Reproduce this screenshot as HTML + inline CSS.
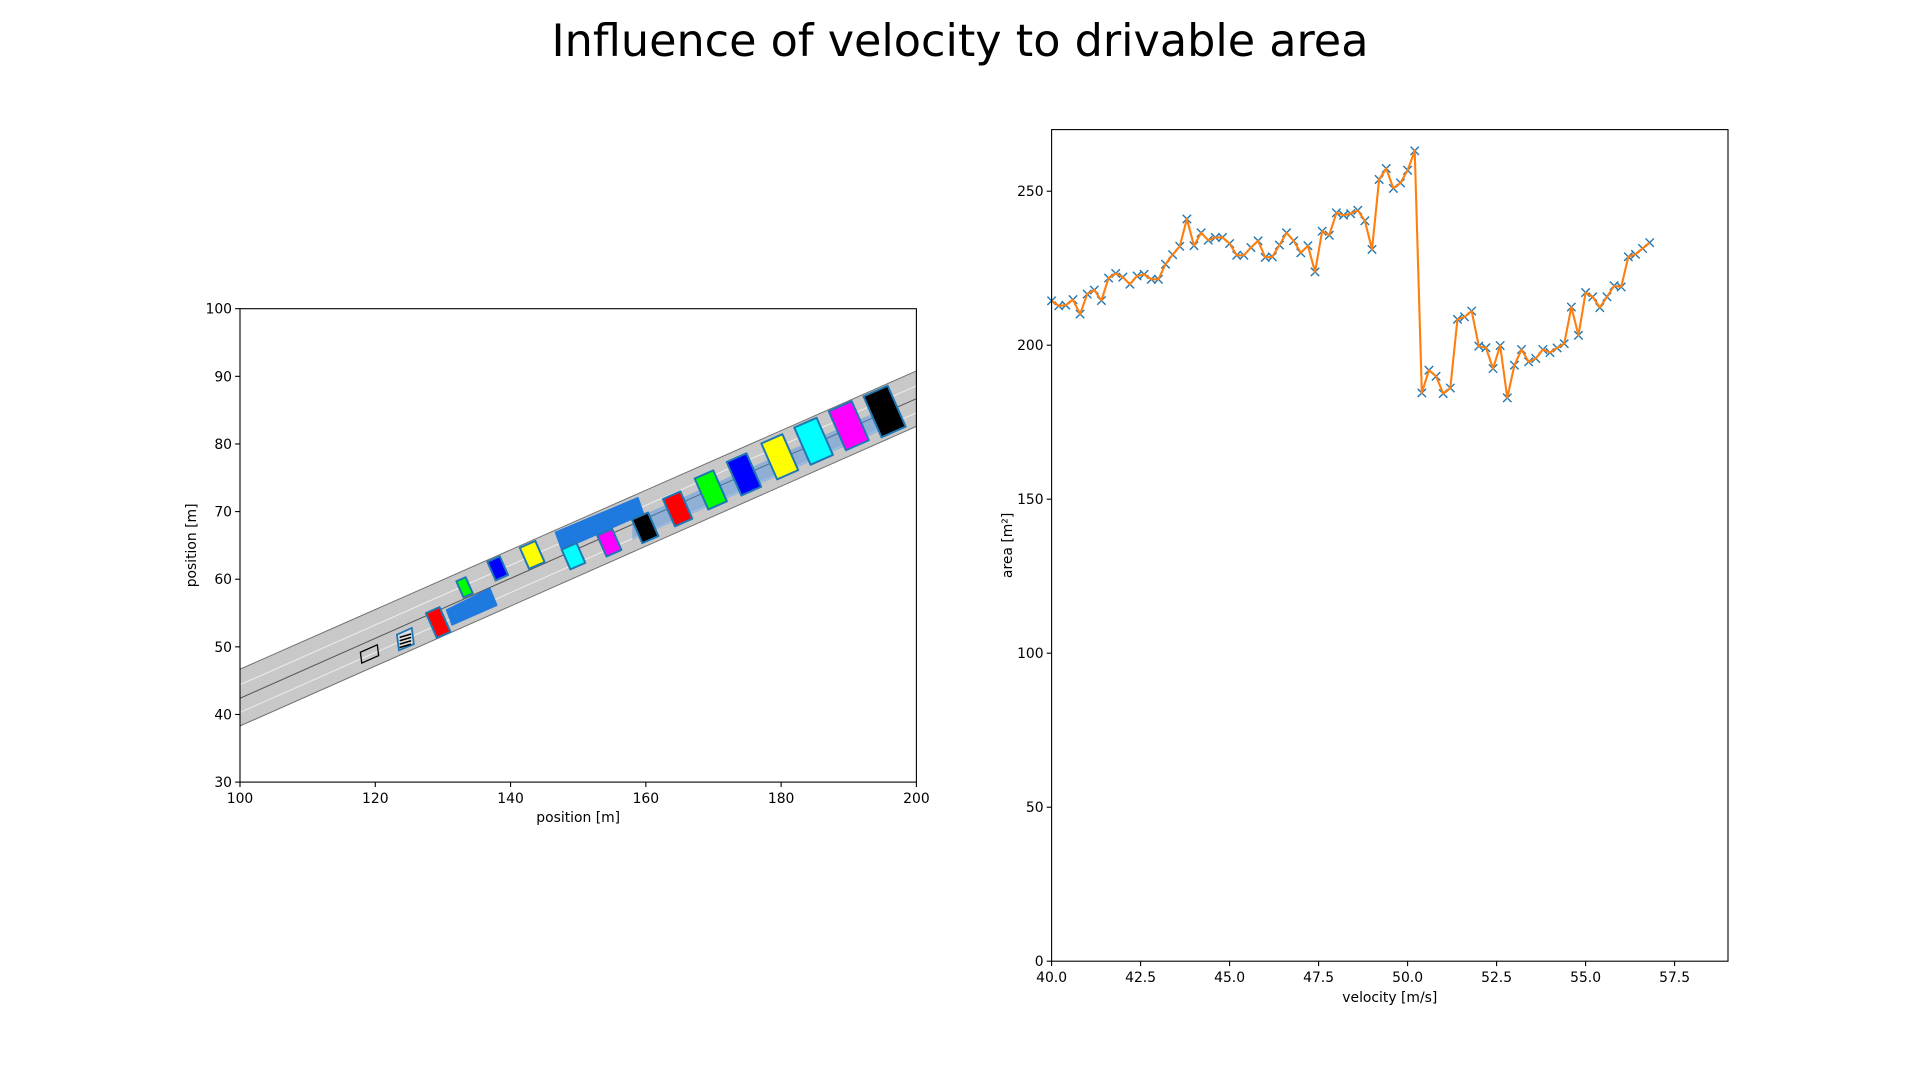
<!DOCTYPE html>
<html><head><meta charset="utf-8"><style>
html,body{margin:0;padding:0;background:#fff;}
svg{display:block;font-family:"DejaVu Sans","Liberation Sans",sans-serif;}
</style></head><body>
<svg id="fig" width="1920" height="1080" viewBox="0 0 1920 1080" xmlns="http://www.w3.org/2000/svg">
<text x="960" y="56" font-size="44.5" text-anchor="middle" fill="#000">Influence of velocity to drivable area</text>
<g id="left"></g>
<g id="right"></g>
</svg>
<script>
// ---- right chart data ----
const velocities = [];
for (let i = 0; i <= 84; i++) velocities.push(+(40 + i * 0.2).toFixed(1));
const areaValues = [214.4,212.8,213.0,214.8,210.1,216.6,217.9,214.5,221.8,223.3,
222.1,219.8,222.5,223.0,221.4,221.4,226.3,229.4,232.1,241.0,
232.3,236.5,234.1,235.0,235.0,233.0,229.2,229.2,231.7,233.9,
228.5,228.7,232.5,236.5,233.9,230.0,232.3,223.8,237.0,235.7,
243.0,242.2,242.7,243.8,240.4,231.1,253.8,257.4,250.9,252.7,
256.8,263.1,184.5,191.9,189.9,184.3,186.1,208.4,209.2,211.1,
199.7,199.2,192.4,199.9,182.9,193.5,198.6,194.6,195.7,198.6,
197.6,199.1,200.5,212.4,203.2,217.1,215.7,212.2,215.7,219.3,
218.9,228.7,229.5,231.4,233.3];
const xTicksR = [40.0,42.5,45.0,47.5,50.0,52.5,55.0,57.5];
const yTicksR = [0,50,100,150,200,250];
// ---- left chart data ----
const xTicksL = [100,120,140,160,180,200];
const yTicksL = [30,40,50,60,70,80,90,100];
const obsX = [129.3,133.2,138.1,143.2,149.3,154.6,159.9,164.7,169.6,174.5,179.8,184.8,190.0,195.3];
const obsY = [53.6,58.8,61.6,63.6,63.4,65.4,67.6,70.4,73.2,75.5,78.1,80.4,82.7,84.8];
const obsAlong = [2.2,1.5,2.0,2.5,2.4,2.4,2.6,2.8,3.0,3.2,3.4,3.6,3.7,3.9];
const obsCross = [4.0,2.6,3.0,3.4,3.2,3.4,3.8,4.4,5.0,5.4,5.8,6.0,6.3,6.6];
const obsColors = ['#ff0000','#00ff00','#0000ff','#ffff00','#00ffff','#ff00ff','#000000','#ff0000','#00ff00','#0000ff','#ffff00','#00ffff','#ff00ff','#000000'];

const NS = 'http://www.w3.org/2000/svg';
function mk(parent, tag, attrs){const e=document.createElementNS(NS,tag);for(const k in attrs)e.setAttribute(k,attrs[k]);parent.appendChild(e);return e;}

// ===== right chart =====
const R = document.getElementById('right');
const rx0=1051.6, rx1=1728, ry0=961.2, ry1=129.6;
const sxR = v => rx0 + (v-40)/(59-40)*(rx1-rx0);
const syR = v => ry0 - v/270*(ry0-ry1);
let rb = mk(R,'rect',{x:rx0,y:ry1,width:rx1-rx0,height:ry0-ry1,fill:'#fff',stroke:'none'});


xTicksR.forEach(t=>{
  const x=sxR(t);
  const l=mk(R,'line',{x1:x,y1:ry0,x2:x,y2:ry0+4.9,stroke:'#000','stroke-width':1.1});
  
  
  const tx=mk(R,'text',{x:x,y:ry0+21,'font-size':13.9,'text-anchor':'middle'});
  tx.textContent=t.toFixed(1);
  
  
});
yTicksR.forEach(t=>{
  const y=syR(t);
  const l=mk(R,'line',{x1:rx0-4.9,y1:y,x2:rx0,y2:y,stroke:'#000','stroke-width':1.1});
  
  
  const tx=mk(R,'text',{x:rx0-8,y:y+5,'font-size':13.9,'text-anchor':'end'});
  tx.textContent=t;
  
  
});
velocities.forEach((v,i)=>{
  const x=sxR(v), y=syR(areaValues[i]), d=4.2;
  const p=mk(R,'path',{d:`M${x-d},${y-d}L${x+d},${y+d}M${x-d},${y+d}L${x+d},${y-d}`,stroke:'#1f77b4','stroke-width':1.4,fill:'none'});
  
  
});
const ln=mk(R,'polyline',{points:velocities.map((v,i)=>sxR(v)+','+syR(areaValues[i])).join(' '),fill:'none',stroke:'#ff7f0e','stroke-width':2.1,'stroke-linejoin':'round'});


const rf=mk(R,'rect',{x:rx0,y:ry1,width:rx1-rx0,height:ry0-ry1,fill:'none',stroke:'#000','stroke-width':1.1});


const rxl=mk(R,'text',{x:(rx0+rx1)/2,y:1002,'font-size':13.9,'text-anchor':'middle'});
rxl.textContent='velocity [m/s]';


const ryl=mk(R,'text',{x:0,y:0,'font-size':13.9,'text-anchor':'middle',transform:`translate(1012,${(ry0+ry1)/2}) rotate(-90)`});
ryl.textContent='area [m²]';



// ===== left chart =====
const L = document.getElementById('left');
const lx0=240, lx1=916.4, ly0=782.1, ly1=308.7;
const sxL = v => lx0 + (v-100)/100*(lx1-lx0);
const syL = v => ly0 - (v-30)/70*(ly0-ly1);
const defs=mk(L,'defs',{});
const cp=mk(defs,'clipPath',{id:'clipL'});
mk(cp,'rect',{x:lx0,y:ly1,width:lx1-lx0,height:ly0-ly1});
const G=mk(L,'g',{'clip-path':'url(#clipL)'});
const line=(a,b,c,d,st,w)=>mk(G,'line',{x1:sxL(a),y1:syL(b),x2:sxL(c),y2:syL(d),stroke:st,'stroke-width':w});
const road=mk(G,'polygon',{points:`${sxL(100)},${syL(46.7)} ${sxL(200)},${syL(90.8)} ${sxL(200)},${syL(82.6)} ${sxL(100)},${syL(38.3)}`,fill:'#c8c8c8',stroke:'#707070','stroke-width':1});


line(100,44.4,200,88.6,'#eeeeee',1);
line(100,40.3,200,84.6,'#eeeeee',1);
line(100,42.4,200,86.7,'#555555',1);
const trail=mk(G,'polygon',{points:`${sxL(158)},${syL(68.8)} ${sxL(197)},${syL(86.0)} ${sxL(197)},${syL(83.0)} ${sxL(158)},${syL(65.8)}`,fill:'#4a90e2','fill-opacity':0.45});


const b1=mk(G,'polygon',{points:`${sxL(130.4)},${syL(55.5)} ${sxL(137.0)},${syL(58.8)} ${sxL(138.1)},${syL(56.1)} ${sxL(131.3)},${syL(53.1)}`,fill:'#1f7ae0'});


const b2=mk(G,'polygon',{points:`${sxL(146.5)},${syL(67.0)} ${sxL(158.9)},${syL(72.2)} ${sxL(159.8)},${syL(69.6)} ${sxL(147.5)},${syL(64.2)}`,fill:'#1f7ae0'});


const ego=mk(G,'polygon',{points:`${sxL(117.8)},${syL(49.2)} ${sxL(120.3)},${syL(50.3)} ${sxL(120.5)},${syL(48.7)} ${sxL(118.0)},${syL(47.6)}`,fill:'none',stroke:'#000','stroke-width':1.3});


const st=mk(G,'polygon',{points:`${sxL(123.2)},${syL(51.8)} ${sxL(125.4)},${syL(52.8)} ${sxL(125.7)},${syL(50.4)} ${sxL(123.5)},${syL(49.5)}`,fill:'#ddd',stroke:'#1f77b4','stroke-width':1.8});


for(let k=0;k<4;k++){line(123.6,51.4-k*0.5,125.3,51.9-k*0.5,'#000',1.5);}
const ca=Math.cos(Math.atan(0.44)), sa=Math.sin(Math.atan(0.44));
obsX.forEach((x,i)=>{
  const y=obsY[i], a=obsAlong[i]/2, c=obsCross[i]/2;
  const corners=[[-a,-c],[a,-c],[a,c],[-a,c]].map(([u,n])=>[x+u*ca-n*sa, y+u*sa+n*ca]);
  const pts=corners.map(p=>sxL(p[0])+','+syL(p[1])).join(' ');
  const p=mk(G,'polygon',{points:pts,fill:obsColors[i],stroke:'#1f77b4','stroke-width':2,'stroke-linejoin':'round'});
  
  
});
const lf=mk(L,'rect',{x:lx0,y:ly1,width:lx1-lx0,height:ly0-ly1,fill:'none',stroke:'#000','stroke-width':1.1});


xTicksL.forEach(t=>{
  const x=sxL(t);
  const l=mk(L,'line',{x1:x,y1:ly0,x2:x,y2:ly0+4.9,stroke:'#000','stroke-width':1.1});
  
  
  const tx=mk(L,'text',{x:x,y:ly0+21,'font-size':13.9,'text-anchor':'middle'});
  tx.textContent=t;
  
  
});
yTicksL.forEach(t=>{
  const y=syL(t);
  const l=mk(L,'line',{x1:lx0-4.9,y1:y,x2:lx0,y2:y,stroke:'#000','stroke-width':1.1});
  
  
  const tx=mk(L,'text',{x:lx0-8,y:y+5,'font-size':13.9,'text-anchor':'end'});
  tx.textContent=t;
  
  
});
const lxl=mk(L,'text',{x:(lx0+lx1)/2,y:822,'font-size':13.9,'text-anchor':'middle'});
lxl.textContent='position [m]';


const lyl=mk(L,'text',{x:0,y:0,'font-size':13.9,'text-anchor':'middle',transform:`translate(196,${(ly0+ly1)/2}) rotate(-90)`});
lyl.textContent='position [m]';


</script>
</body></html>
